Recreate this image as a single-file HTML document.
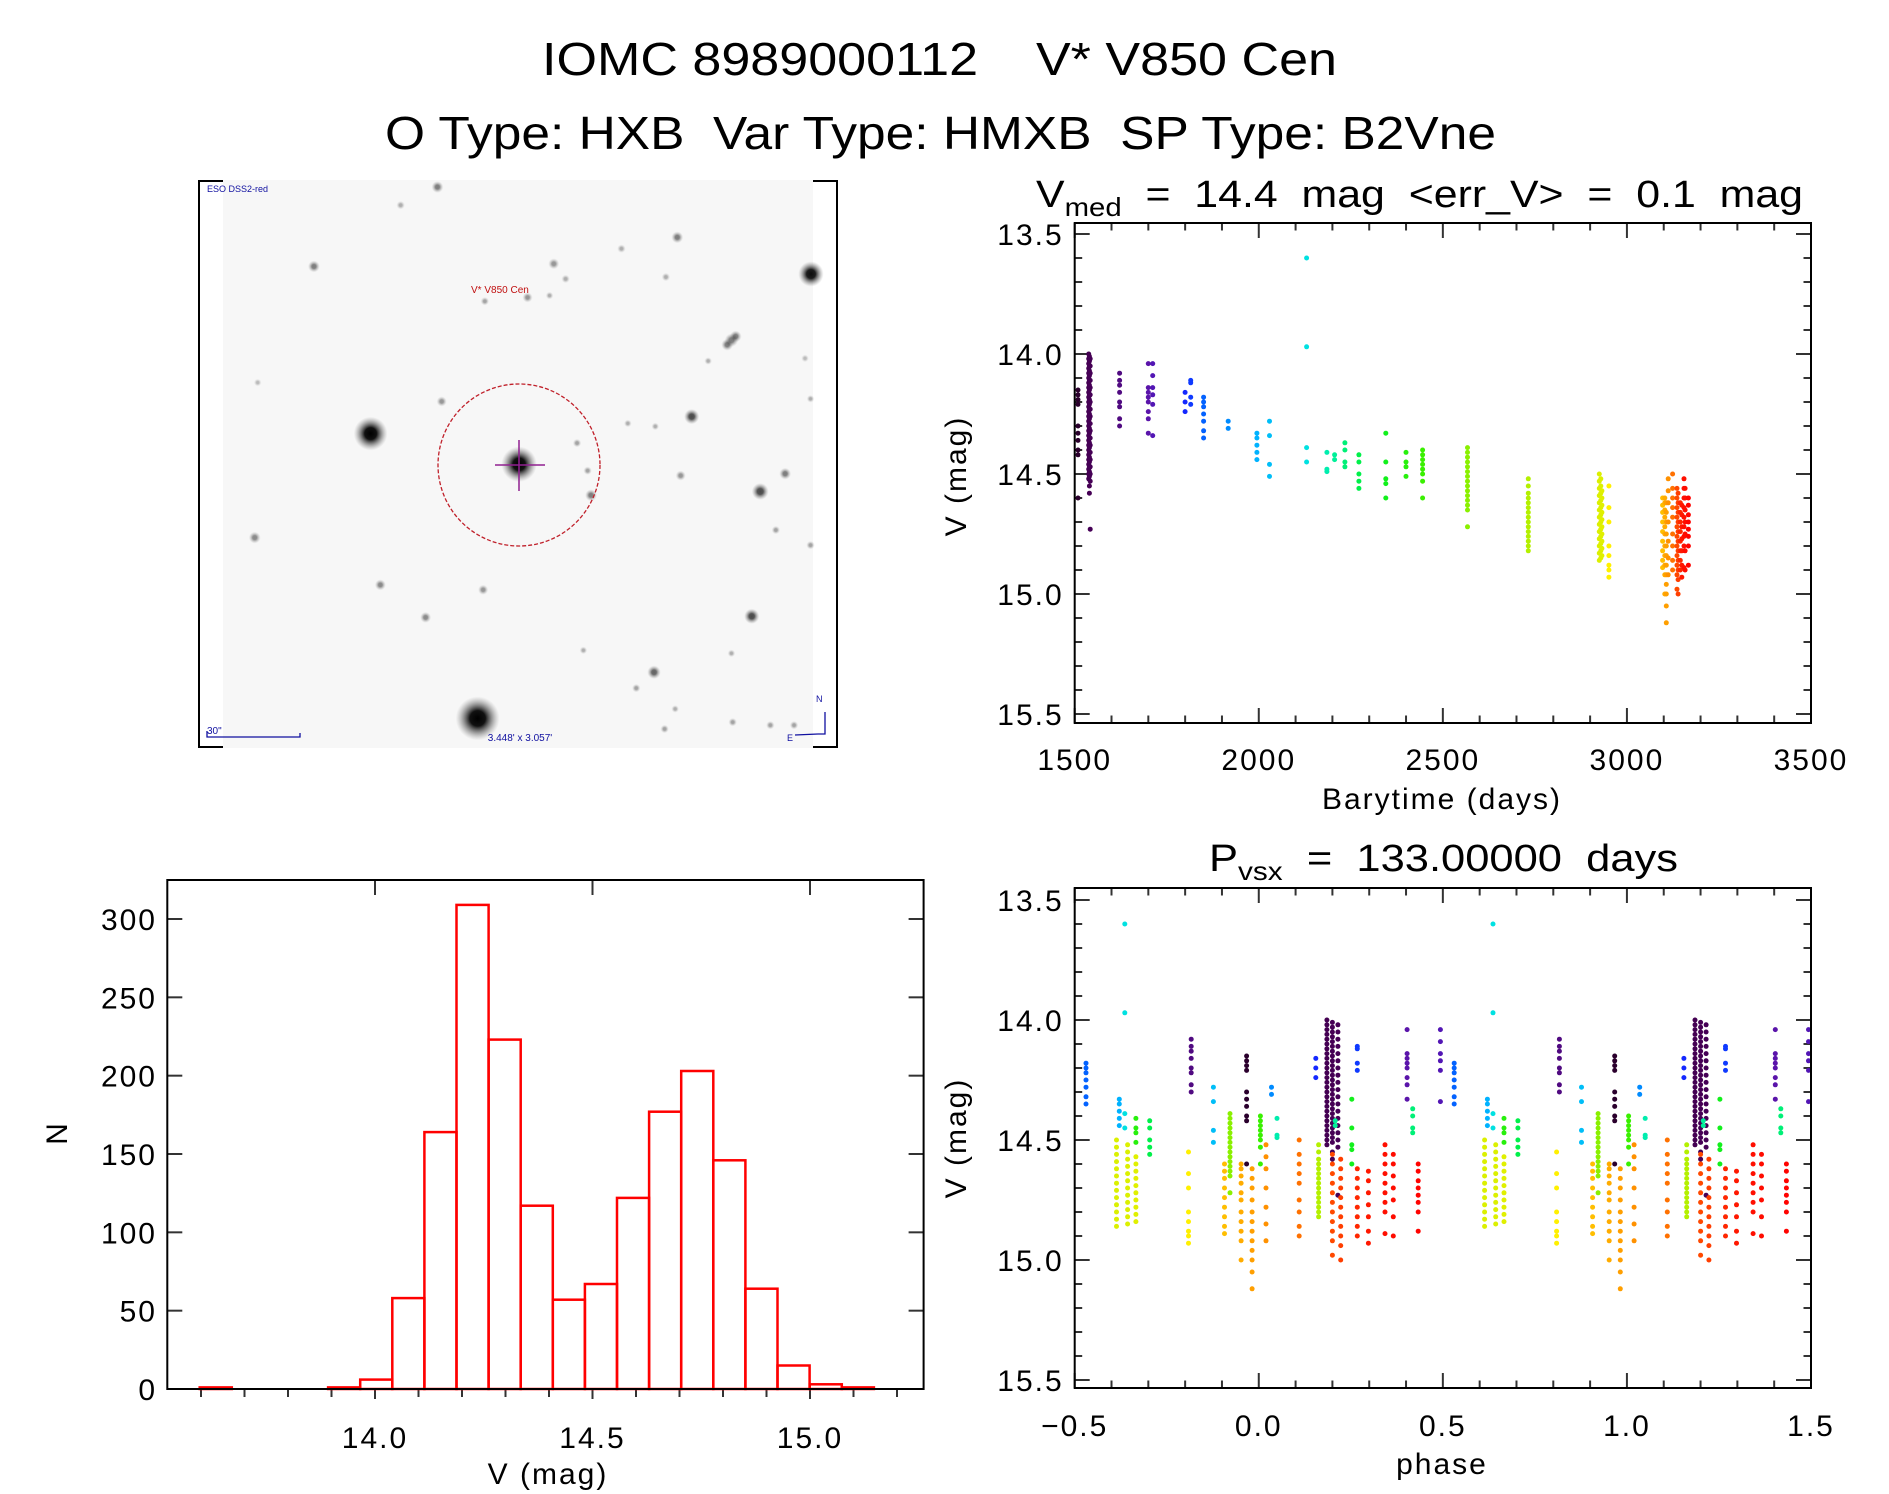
<!DOCTYPE html>
<html><head><meta charset="utf-8"><title>IOMC 8989000112 V* V850 Cen</title>
<style>
html,body{margin:0;padding:0;background:#fff;}
svg{display:block;font-family:"Liberation Sans",sans-serif;}
svg text{white-space:pre;}
</style></head>
<body>
<svg id="fig" xmlns="http://www.w3.org/2000/svg" xml:space="preserve" width="1889" height="1494" viewBox="0 0 1889 1494">
<rect width="1889" height="1494" fill="#fff"/>
<text x="542" y="75" font-size="46" textLength="795" lengthAdjust="spacingAndGlyphs">IOMC 8989000112    V* V850 Cen</text>
<text x="385" y="149" font-size="46" textLength="1111" lengthAdjust="spacingAndGlyphs">O Type: HXB  Var Type: HMXB  SP Type: B2Vne</text>

<g id="imgpanel">
<rect x="199" y="181" width="638" height="566" fill="none" stroke="#000" stroke-width="2"/>
<rect x="223" y="180" width="590" height="568" fill="#f7f7f7"/>
<defs>
<radialGradient id="star"><stop offset="0" stop-color="#000"/><stop offset="0.35" stop-color="#111"/><stop offset="1" stop-color="#888" stop-opacity="0"/></radialGradient>
</defs>
<g id="stars" transform="translate(190,170) scale(0.4230,0.3782)"></g>
<circle cx="519" cy="465" r="81" fill="none" stroke="#c0202a" stroke-width="1.3" stroke-dasharray="4,2"/>
<line x1="495" y1="465" x2="545" y2="465" stroke="#902090" stroke-width="1.5"/>
<line x1="519" y1="440" x2="519" y2="491" stroke="#902090" stroke-width="1.5"/>
<text x="471" y="293" font-size="10" fill="#c01010">V* V850 Cen</text>
<text x="207" y="192" font-size="9" fill="#1010a0">ESO DSS2-red</text>
<text x="207" y="734" font-size="10" fill="#1010a0">30"</text>
<polyline points="207,731 207,737 300,737 300,733" fill="none" stroke="#1010a0" stroke-width="1.3"/>
<text x="520" y="741" font-size="10" fill="#1010a0" text-anchor="middle">3.448' x 3.057'</text>
<polyline points="825,712 825,734 818,734" fill="none" stroke="#1010a0" stroke-width="1.3"/>
<line x1="818" y1="734" x2="795" y2="735" stroke="#1010a0" stroke-width="1.3"/>
<text x="816" y="702" font-size="9" fill="#1010a0">N</text>
<text x="787" y="741" font-size="9" fill="#1010a0">E</text>
</g>

<g id="lc"></g>
<g id="ph"></g>
<g id="hist"></g>
</svg>
<script>
// ---- data ----
const colTimes=[1509,1538,1540,1542,1622,1700,1712,1800,1815,1850,1917,1995,2029,2130,2185,2206,2234,2272,2345,2400,2445,2567,2732,2925,2929,2932,2951,3097,3103,3107,3112,3124,3136,3139,3145,3149,3155,3158,3167];
const colMags=[
[14.15,14.17,14.19,14.21,14.3,14.33,14.36,14.4,14.42,14.6],
[14.0,14.02,14.04,14.06,14.08,14.1,14.12,14.14,14.16,14.18,14.2,14.22,14.24,14.26,14.28,14.3,14.32,14.34,14.36,14.38,14.4,14.42,14.44,14.46,14.48,14.5,14.52],
[14.01,14.03,14.05,14.07,14.09,14.11,14.13,14.15,14.17,14.19,14.21,14.23,14.25,14.27,14.29,14.31,14.33,14.35,14.37,14.39,14.41,14.43,14.45,14.47,14.49,14.51,14.55,14.58],
[14.02,14.05,14.08,14.11,14.14,14.17,14.2,14.23,14.26,14.29,14.32,14.35,14.38,14.41,14.44,14.47,14.5,14.53,14.73],
[14.08,14.11,14.13,14.16,14.2,14.22,14.27,14.3],
[14.04,14.14,14.16,14.18,14.2,14.24,14.27,14.33],
[14.04,14.09,14.14,14.17,14.21,14.34],
[14.16,14.2,14.24],
[14.11,14.12,14.18,14.21],
[14.18,14.2,14.22,14.25,14.28,14.32,14.35],
[14.28,14.31],
[14.33,14.35,14.38,14.41,14.44],
[14.28,14.34,14.46,14.51],
[13.6,13.97,14.39,14.45],
[14.41,14.48,14.49],
[14.42,14.44],
[14.37,14.4,14.45,14.47],
[14.42,14.45,14.5,14.53,14.56],
[14.33,14.45,14.52,14.54,14.6],
[14.41,14.45,14.47,14.51],
[14.4,14.42,14.44,14.46,14.48,14.5,14.53,14.6],
[14.39,14.41,14.43,14.45,14.47,14.49,14.51,14.53,14.55,14.57,14.59,14.61,14.63,14.65,14.72],
[14.52,14.55,14.58,14.6,14.62,14.64,14.66,14.68,14.7,14.72,14.74,14.76,14.78,14.8,14.82],
[14.5,14.53,14.56,14.59,14.62,14.65,14.68,14.71,14.74,14.77,14.8,14.83,14.86],
[14.52,14.55,14.58,14.61,14.64,14.67,14.7,14.73,14.76,14.79,14.82,14.85],
[14.57,14.6,14.63,14.66,14.69,14.72,14.75,14.78,14.81,14.84],
[14.55,14.64,14.7,14.8,14.84,14.88,14.9,14.93],
[14.6,14.63,14.66,14.7,14.74,14.78,14.82,14.86,14.89],
[14.6,14.62,14.65,14.68,14.72,14.75,14.8,14.84,14.88,14.92,15.0],
[14.62,14.66,14.7,14.75,14.8,14.84,14.88,14.92,14.96,15.0,15.05,15.12],
[14.52,14.57,14.62,14.7,14.78,14.85,14.92],
[14.5,14.56,14.6,14.64,14.68,14.75,14.8,14.86,14.9],
[14.56,14.6,14.64,14.68,14.72,14.76,14.8,14.84,14.88,14.92,14.98],
[14.58,14.62,14.66,14.7,14.74,14.78,14.82,14.86,14.9,14.94,15.0],
[14.62,14.66,14.7,14.74,14.78,14.82,14.86,14.9],
[14.63,14.67,14.72,14.77,14.82,14.88,14.93],
[14.52,14.56,14.6,14.64,14.68,14.72,14.76,14.8,14.89],
[14.56,14.6,14.65,14.7,14.75,14.82,14.9],
[14.6,14.63,14.67,14.7,14.73,14.76,14.8,14.88]
];
const period=133.0;
const epoch=1513.4;
const lcXTicks=[1500,2000,2500,3000,3500];
const magTicks=[13.5,14.0,14.5,15.0,15.5];
const phaseTicks=[-0.5,0.0,0.5,1.0,1.5];
const histStart=13.597;
const histWidth=0.0738;
const histCounts=[1,0,0,0,1,6,58,164,309,223,117,57,67,122,177,203,146,64,15,3,1];
const histYTicks=[0,50,100,150,200,250,300];
const histXTicks=[14.0,14.5,15.0];

// ---- helpers ----
const NS='http://www.w3.org/2000/svg';
function mk(parent,tag,attrs){const e=document.createElementNS(NS,tag);for(const k in attrs)e.setAttribute(k,attrs[k]);parent.appendChild(e);return e;}
function lin(d0,d1,r0,r1){return v=>r0+(v-d0)*(r1-r0)/(d1-d0);}
const stops=[[1505,[40,0,40]],[1540,[70,0,85]],[1700,[90,20,170]],[1800,[20,40,255]],[1860,[0,110,255]],[2000,[0,180,255]],[2130,[0,225,225]],[2200,[0,240,160]],[2300,[0,240,40]],[2450,[60,240,0]],[2570,[140,240,0]],[2730,[180,240,0]],[2930,[220,240,0]],[2950,[255,240,0]],[3097,[255,190,0]],[3110,[255,150,0]],[3125,[255,110,0]],[3137,[255,70,0]],[3150,[255,20,0]],[3170,[255,0,0]]];
function colorAt(t){
  if(t<=stops[0][0])return 'rgb('+stops[0][1]+')';
  for(let i=1;i<stops.length;i++){if(t<=stops[i][0]){const a=stops[i-1],b=stops[i],f=(t-a[0])/(b[0]-a[0]);const c=a[1].map((v,j)=>Math.round(v+(b[1][j]-v)*f));return 'rgb('+c+')';}}
  return 'rgb('+stops[stops.length-1][1]+')';
}
function frame(g,L,R,T,B,name){
  const r=mk(g,'rect',{x:L,y:T,width:R-L,height:B-T,fill:'none',stroke:'#000','stroke-width':2});
  
  
}
function tick(g,x1,y1,x2,y2){mk(g,'line',{x1:x1,y1:y1,x2:x2,y2:y2,stroke:'#333','stroke-width':2});}
function label(g,x,y,txt,anchor,size,name){
  const t=mk(g,'text',{x:x,y:y,'font-size':size,'text-anchor':anchor,'letter-spacing':2});
  t.textContent=txt;
  
  
  return t;
}
function magAxes(g,L,R,T,B,y){
  for(let m=13.5;m<=15.501;m+=0.1){const yy=y(m);const major=Math.abs(m*2-Math.round(m*2))<1e-6;const len=major?15:7.5;tick(g,L,yy,L+len,yy);tick(g,R,yy,R-len,yy);}
  magTicks.forEach(m=>{label(g,L-11,y(m)+11,m.toFixed(1),'end',30,'y-tick-label');});
}

// ---- light curve ----
(function(){
  const g=document.getElementById('lc');
  const L=1074.7,R=1811,T=223,B=723;
  const x=lin(1500,3500,L,R), y=lin(13.5,15.5,234,714);
  for(let t=1500;t<=3500;t+=100){const xx=x(t);const major=t%500===0;const len=major?15:7.5;tick(g,xx,B,xx,B-len);tick(g,xx,T,xx,T+len);}
  magAxes(g,L,R,T,B,y);
  lcXTicks.forEach(t=>label(g,x(t),770,String(t),'middle',30,'x-tick-label'));
  colTimes.forEach((t,i)=>{colMags[i].forEach(m=>{
    const c=mk(g,'circle',{cx:x(t).toFixed(1),cy:y(m).toFixed(1),r:2.5,fill:colorAt(t)});
    
    
  });});
  frame(g,L,R,T,B,'lc-plot-frame');
  label(g,1442,809,'Barytime (days)','middle',30,'x-axis-title');
  const yt=label(g,0,0,'V (mag)','middle',30,'y-axis-title');yt.setAttribute('transform','translate(966,476) rotate(-90)');
  const tt=mk(g,'text',{x:1036,y:207,'font-size':38,textLength:767,lengthAdjust:'spacingAndGlyphs'});
  
  
  tt.innerHTML='V<tspan font-size="26" dy="9">med</tspan><tspan dy="-9">  =  14.4  mag  &lt;err_V&gt;  =  0.1  mag</tspan>';
})();

// ---- phase plot ----
(function(){
  const g=document.getElementById('ph');
  const L=1074.7,R=1811,T=888,B=1388;
  const x=lin(-0.5,1.5,L,R), y=lin(13.5,15.5,900,1380);
  for(let k=0;k<=20;k++){const p=-0.5+k*0.1;const xx=x(p);const len=(k%5===0)?15:7.5;tick(g,xx,B,xx,B-len);tick(g,xx,T,xx,T+len);}
  magAxes(g,L,R,T,B,y);
  phaseTicks.forEach(p=>label(g,x(p),1436,(p<0?'\u2212':'')+Math.abs(p).toFixed(1),'middle',30,'x-tick-label'));
  colTimes.forEach((t,i)=>{
    let ph=((t-epoch)/period)%1; if(ph>=0.5)ph-=1; if(ph<-0.5)ph+=1;
    [ph,ph+1].forEach(p=>{colMags[i].forEach(m=>{
      const c=mk(g,'circle',{cx:x(p).toFixed(1),cy:y(m).toFixed(1),r:2.5,fill:colorAt(t)});
      
      
    });});
  });
  frame(g,L,R,T,B,'phase-plot-frame');
  label(g,1442,1474,'phase','middle',30,'x-axis-title');
  const yt=label(g,0,0,'V (mag)','middle',30,'y-axis-title');yt.setAttribute('transform','translate(966,1138) rotate(-90)');
  const tt=mk(g,'text',{x:1209,y:871,'font-size':38,textLength:469,lengthAdjust:'spacingAndGlyphs'});
  
  
  tt.innerHTML='P<tspan font-size="26" dy="9">vsx</tspan><tspan dy="-9">  =  133.00000  days</tspan>';
})();

// ---- histogram ----
(function(){
  const g=document.getElementById('hist');
  const L=167.3,R=923.6,T=880,B=1389;
  const x=lin(14.0,14.5,375,592.5), y=lin(0,300,1389,919);
  histYTicks.forEach(v=>{tick(g,L,y(v),L+15,y(v));tick(g,R,y(v),R-15,y(v));label(g,157,y(v)+11,String(v),'end',30,'y-tick-label');});
  for(let k=0;k<=16;k++){const m=13.6+k*0.1;const xx=x(m);const major=Math.abs(m*2-Math.round(m*2))<1e-6;tick(g,xx,B,xx,B+(major?10:8));if(major)tick(g,xx,T,xx,T+15);}
  histXTicks.forEach(m=>label(g,x(m),1448,m.toFixed(1),'middle',30,'x-tick-label'));
  histCounts.forEach((c,i)=>{
    const x0=x(histStart+i*histWidth),x1=x(histStart+(i+1)*histWidth);
    const r=mk(g,'rect',{x:x0.toFixed(1),y:y(c).toFixed(1),width:(x1-x0).toFixed(1),height:(B-y(c)).toFixed(1),fill:'none',stroke:'#ff0000','stroke-width':2.5});
    
    
  });
  frame(g,L,R,T,B,'hist-plot-frame');
  label(g,548,1484,'V (mag)','middle',30,'x-axis-title');
  const yt=label(g,0,0,'N','middle',30,'y-axis-title');yt.setAttribute('transform','translate(67,1133) rotate(-90)');
})();

// ---- sky image stars (positions in image-crop units) ----
const starX=[585,498,293,860,888,1020,1152,1125,1468,697,798,850,1280,595,427,778,1186,915,940,948,1160,1407,1348,1385,153,450,693,557,1328,1097,1055,930,1280,680,1147,1122,1283,1372,1428,1467,1467,160,1035,1100,1225,1454,1290,1270];
const starY=[45,93,255,248,288,208,178,283,275,347,337,332,450,612,697,778,652,722,795,860,808,803,850,952,972,1097,1110,1183,1180,1328,1370,1270,1278,1450,1425,1478,1460,1468,1468,605,992,562,670,678,505,498,440,462];
const starR=[14,10,14,13,10,10,14,10,30,10,12,9,16,12,40,42,18,10,10,14,12,14,20,10,14,13,12,13,18,16,10,9,9,52,9,10,10,10,10,9,10,9,9,9,9,9,14,14];
const starA=[0.5,0.3,0.5,0.4,0.3,0.3,0.5,0.3,0.95,0.35,0.4,0.3,0.5,0.4,1,1,0.7,0.35,0.35,0.5,0.4,0.5,0.7,0.35,0.45,0.45,0.4,0.45,0.7,0.6,0.35,0.3,0.3,1,0.3,0.35,0.35,0.35,0.35,0.3,0.35,0.25,0.3,0.3,0.3,0.25,0.5,0.5];
(function(){
  const g=document.getElementById('stars');
  starX.forEach((sx,i)=>{
    const c=mk(g,'ellipse',{cx:sx,cy:starY[i],rx:starR[i],ry:starR[i]*1.118,fill:'url(#star)','fill-opacity':starA[i]});
    
    
  });
})();
</script>
</body></html>
